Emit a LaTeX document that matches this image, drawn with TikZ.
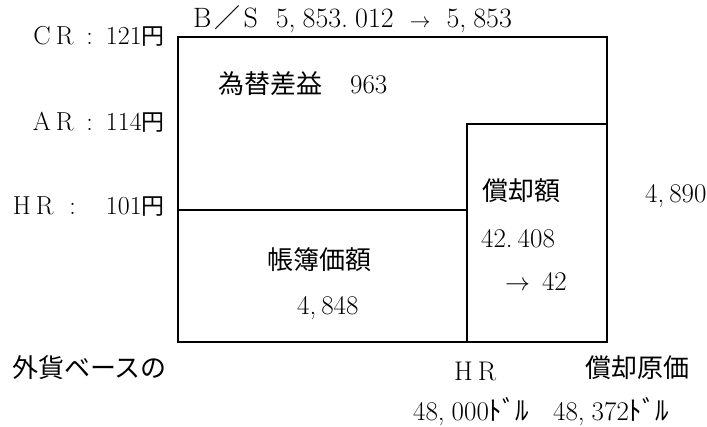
\documentclass[tikz,border=0pt]{standalone}
\usepackage{fontspec}
\newfontfamily\jp{Noto Sans CJK JP}
\newcommand\J[1]{{\fontsize{26}{26}\selectfont\jp #1}}
\newcommand\Yen{{\fontsize{23}{23}\selectfont\jp 円}}
\newcommand\Dollar{{\fontsize{27}{27}\selectfont\jp ﾄﾞﾙ}}
\newcommand\Arr{{\fontsize{22}{22}\selectfont$\rightarrow$}}
\begin{document}
\begin{tikzpicture}[x=1pt,y=-1pt,
  lbl/.style={inner sep=0pt,anchor=base west,font=\fontsize{27}{27}\selectfont},
  rlbl/.style={lbl,anchor=base east,font=\fontsize{26}{26}\selectfont},
  box/.style={line width=1.7pt}]
\useasboundingbox (0,0) rectangle (707,426);
% boxes
\draw[box] (178,37) rectangle (607,342);
\draw[box] (178,210) -- (467,210);
\draw[box] (467,342) -- (467,124) -- (607,124);
% labels
\node[lbl,font=\fontsize{28}{28}\selectfont] (bs) at (193,27) {B\kern3pt\J{／}\kern3pt S\hspace{18pt}5,\kern7pt853.\kern7pt012\hspace{16pt}\Arr\hspace{16pt}5,\kern7pt853};
\node[rlbl] (cr) at (165,44) {C\hspace{5pt}R\hspace{13pt}:\hspace{13pt}121\Yen};
\node[rlbl] (ar) at (165,130) {A\hspace{5pt}R\hspace{13pt}:\hspace{13pt}114\Yen};
\node[rlbl] (hr) at (165,214) {H\hspace{5pt}R\hspace{16pt}:\hspace{30pt}101\Yen};
\node[lbl] (gain) at (218,93) {\J{為替差益}\hspace{28pt}963};
\node[lbl] (dep) at (482,200) {\J{償却額}};
\node[lbl] (depv) at (481,247) {42.\kern5pt408};
\node[lbl] (depr) at (505,290) {$\rightarrow$\hspace{12pt}42};
\node[lbl] (tot) at (645,202) {4,\kern5pt890};
\node[lbl] (book) at (267,269) {\J{帳簿価額}};
\node[lbl] (bookv) at (297,314) {4,\kern5pt848};
\node[lbl] (fc) at (12,377) {\J{外貨ベースの}};
\node[lbl] (hrb) at (454,380) {H\hspace{5pt}R};
\node[lbl] (ac) at (585,377) {\J{償却原価}};
\node[lbl] (d1) at (413,420) {48,\kern7pt000\Dollar};
\node[lbl] (d2) at (553,420) {48,\kern7pt372\Dollar};
\end{tikzpicture}
\end{document}
